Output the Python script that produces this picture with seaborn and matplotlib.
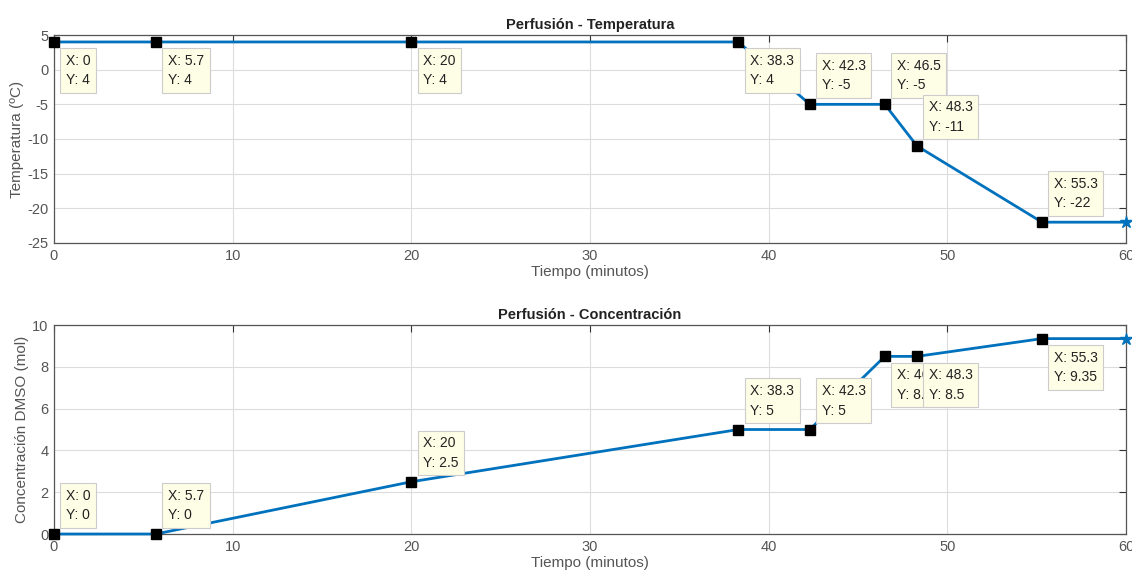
import pandas as pd
import seaborn as sns
import matplotlib.pyplot as plt

TIEMPO = [0, 5.7, 20, 38.3, 42.3, 46.5, 48.3, 55.3, 60]
TEMPERATURA = [4, 4, 4, 4, -5, -5, -11, -22, -22]
CONCENTRACION = [0, 0, 2.5, 5, 5, 8.5, 8.5, 9.35, 9.35]

# data tips: index of point, and which side the box sits on (True = below)
TIPS_TEMP = [(0, True), (1, True), (2, True), (3, True), (4, False),
             (5, False), (6, False), (7, False)]
TIPS_CONC = [(0, False), (1, False), (2, False), (3, False), (4, False),
             (5, True), (6, True), (7, True)]

LINE = "#0072BD"
GRAY = "#555555"

sns.set_style("white")
plt.rcParams["font.family"] = ["Liberation Sans", "DejaVu Sans"]
plt.rcParams["axes.unicode_minus"] = False

fig = plt.figure(figsize=(11.32, 5.77), dpi=100)
ax1 = fig.add_axes([0.0477, 0.5789, 0.947, 0.3604])
ax2 = fig.add_axes([0.0477, 0.0745, 0.947, 0.3622])

df = pd.DataFrame({"t": TIEMPO, "temp": TEMPERATURA, "conc": CONCENTRACION})


def panel(ax, y, title, ylabel, ylim, yticks, tips):
    sns.lineplot(data=df, x="t", y=y, ax=ax, color=LINE, linewidth=2.0,
                 clip_on=False, zorder=3)
    ax.plot(df["t"].iloc[-1], df[y].iloc[-1], marker="*", color=LINE,
            markersize=9, clip_on=False, zorder=4)
    ax.set_xlim(0, 60)
    ax.set_ylim(*ylim)
    ax.set_yticks(yticks)
    ax.set_xticks(range(0, 61, 10))
    ax.grid(True, color="#dcdcdc", linewidth=0.8)
    ax.set_axisbelow(True)
    ax.tick_params(direction="in", length=5, colors="#333333", labelsize=10.5,
                   right=True, top=True, labelright=False, labeltop=False,
                   labelcolor=GRAY, pad=4)
    for s in ax.spines.values():
        s.set_color("#555555")
        s.set_linewidth(0.9)
    ax.set_title(title, fontsize=10.5, fontweight="bold", pad=4, color="#222222")
    ax.set_xlabel("Tiempo (minutos)", fontsize=11, color=GRAY, labelpad=2)
    ax.set_ylabel(ylabel, fontsize=11, color=GRAY, labelpad=2)

    for i, below in tips:
        xv, yv = df["t"].iloc[i], df[y].iloc[i]
        ax.plot(xv, yv, "s", color="black", markersize=7.5, clip_on=False, zorder=5)
        label = f"X: {xv:g}\nY: {yv:g}"
        ax.annotate(label, (xv, yv), xytext=(12, -12 if below else 12),
                    textcoords="offset pixels", ha="left",
                    va="top" if below else "bottom",
                    fontsize=10, color="#222222", linespacing=1.5, zorder=6,
                    bbox=dict(boxstyle="square,pad=0.4", fc="#fefee6",
                              ec="#cccccc", lw=0.8))


panel(ax1, "temp", "Perfusión - Temperatura", "Temperatura (ºC)",
      (-25, 5), range(-25, 6, 5), TIPS_TEMP)
panel(ax2, "conc", "Perfusión - Concentración", "Concentración DMSO (mol)",
      (0, 10), range(0, 11, 2), TIPS_CONC)

fig.savefig("out.png", dpi=100)
